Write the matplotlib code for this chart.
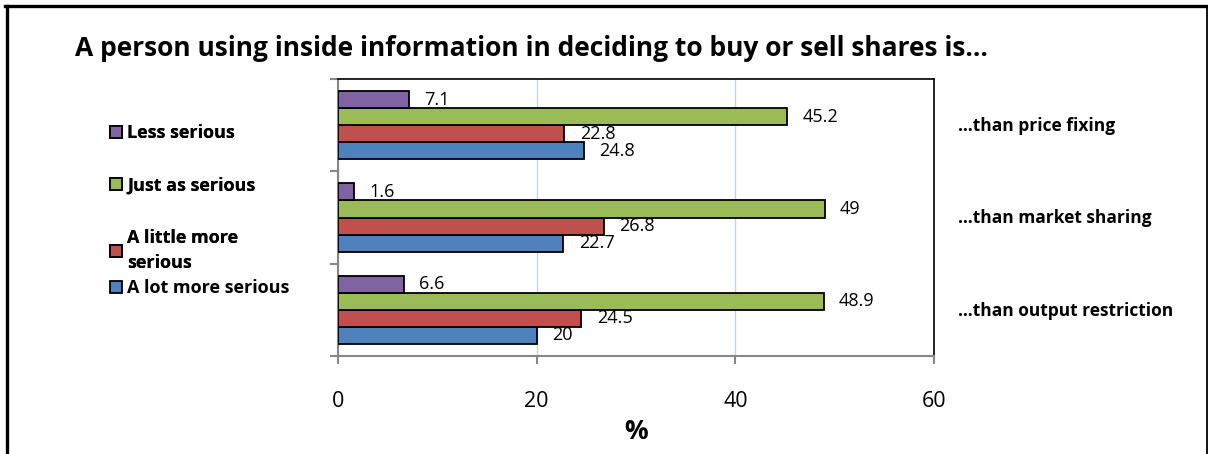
import matplotlib.pyplot as plt
from matplotlib.lines import Line2D
import numpy as np

plt.rcParams['font.family'] = ['Open Sans', 'DejaVu Sans']

# data (bottom category first, as in the source chart)
categories = ['...than output restriction', '...than market sharing', '...than price fixing']
series_names = ['A lot more serious', 'A little more serious', 'Just as serious', 'Less serious']
lot_more = [20, 22.7, 24.8]
little_more = [24.5, 26.8, 22.8]
just_as = [48.9, 49, 45.2]
less = [6.6, 1.6, 7.1]
colors = ['#4F81BD', '#C0504D', '#9BBB59', '#8064A2']

W, H = 1208, 454
fig = plt.figure(figsize=(W / 100, H / 100), dpi=100)
ax = fig.add_axes([338 / W, 1 - 356 / H, (934 - 338) / W, (356 - 79) / H])

y = np.arange(len(categories))
h = 0.185
values = [lot_more, little_more, just_as, less]
bars = []
for i, (vals, col) in enumerate(zip(values, colors)):
    b = ax.barh(y + (i - 1.5) * h, vals, height=h, color=col,
                edgecolor='black', linewidth=1.3, zorder=3, label=series_names[i])
    ax.bar_label(b, labels=['%g' % v for v in vals], padding=11, fontsize=13, zorder=2)
    bars.append(b)

ax.set_xlim(0, 60)
ax.set_ylim(-0.5, 2.5)
ax.set_xticks([0, 20, 40, 60])
ax.set_yticks([-0.5, 0.5, 1.5, 2.5])
ax.set_yticklabels([])
ax.xaxis.grid(True, color='#C5D2E6', linewidth=1, zorder=0)
ax.tick_params(axis='x', direction='out', length=6, width=1.5, color='#878787',
               labelsize=15.5, pad=19)
ax.tick_params(axis='y', direction='out', length=6, width=1.5, color='#878787')
for s in ['left', 'bottom']:
    ax.spines[s].set_color('#878787')
    ax.spines[s].set_linewidth(1.5)
for s in ['top', 'right']:
    ax.spines[s].set_color('black')
    ax.spines[s].set_linewidth(1.2)
ax.set_xlabel('%', fontsize=19, fontweight='bold', labelpad=4.5)

for yi, cat in zip(y, categories):
    ax.text(1.04, yi - 0.01, cat.replace('...', '\u2026'), transform=ax.get_yaxis_transform(),
            fontsize=12.5, fontweight='bold', va='center', ha='left')

# legend: top three entries, then the last one (Excel spacing)
leg1 = fig.legend([bars[3], bars[2], bars[1]],
                  ['Less serious', 'Just as serious', 'A little more\nserious'],
                  loc='upper left', bbox_to_anchor=(110 / W, 1 - 124 / H),
                  frameon=False, prop={'size': 13, 'weight': 'bold'},
                  handlelength=0.65, handleheight=0.65, handletextpad=0.3,
                  labelspacing=1.9, borderpad=0, borderaxespad=0)
for t in leg1.get_texts():
    t.set_linespacing(1.5)
fig.add_artist(leg1)
fig.legend([bars[0]], ['A lot more serious'],
           loc='upper left', bbox_to_anchor=(110 / W, 1 - 279 / H),
           frameon=False, prop={'size': 13, 'weight': 'bold'},
           handlelength=0.65, handleheight=0.65, handletextpad=0.3,
           borderpad=0, borderaxespad=0)

fig.text(75 / W, 1 - 48 / H,
         'A person using inside information in deciding to buy or sell shares is...',
         fontsize=19, fontweight='bold', va='center', ha='left')

# outer frame (bottom edge is cut off in the source)
fig.add_artist(Line2D([6.5 / W, 6.5 / W], [0, 1 - 5.5 / H], color='black', linewidth=2.4))
fig.add_artist(Line2D([5 / W, 1207 / W], [1 - 5.5 / H, 1 - 5.5 / H], color='black', linewidth=2.4))
fig.add_artist(Line2D([1206.5 / W, 1206.5 / W], [0, 1 - 5.5 / H], color='black', linewidth=1.3))

fig.savefig('out.png', dpi=100)
